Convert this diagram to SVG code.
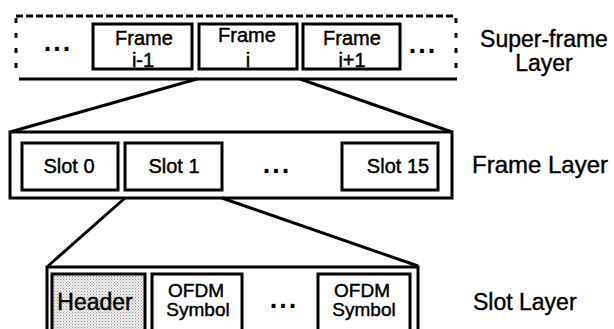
<svg xmlns="http://www.w3.org/2000/svg" width="614" height="329" viewBox="0 0 614 329">
  <defs>
    <pattern id="stipple" width="3" height="3" patternUnits="userSpaceOnUse">
      <rect width="3" height="3" fill="#ececec"/>
      <rect x="0" y="0" width="1" height="1" fill="#9a9a9a"/>
      <rect x="1.5" y="1.5" width="1" height="1" fill="#b5b5b5"/>
    </pattern>
  </defs>
  <style>
    .box { fill: #ffffff; stroke: #000; stroke-width: 3; }
    .edge { stroke: #000; stroke-width: 3; fill: none; }
    .lbl { font-family: "Liberation Sans", Arial, sans-serif; fill: #000; stroke: #000; stroke-width: 0.45px; text-anchor: middle; }
    .dots { font-family: "Liberation Sans", Arial, sans-serif; font-weight: bold; font-size: 27px; letter-spacing: 2px; fill: #000; text-anchor: middle; }
    .layer { font-family: "Liberation Sans", Arial, sans-serif; font-size: 23px; fill: #000; stroke: #000; stroke-width: 0.4px; }
  </style>

  <!-- super-frame container -->
  <g id="superframe">
    <line x1="16" y1="16" x2="456" y2="16" class="edge" stroke-dasharray="7 3"/>
    <line x1="16" y1="18" x2="16" y2="77" class="edge" stroke-dasharray="5 10"/>
    <line x1="456" y1="18" x2="456" y2="77" class="edge" stroke-dasharray="5 10"/>
    <line x1="19" y1="79" x2="457" y2="79" class="edge"/>
    <text x="58" y="51" class="dots">...</text>
    <text x="423" y="53" class="dots">...</text>
  </g>
  <g id="frame-im1">
    <rect x="93" y="24" width="99" height="45" class="box"/>
    <text x="144" y="45" class="lbl" font-size="20">Frame</text>
    <text x="143" y="67" class="lbl" font-size="20">i-1</text>
  </g>
  <g id="frame-i">
    <rect x="199" y="24" width="98" height="45" class="box"/>
    <text x="247" y="42" class="lbl" font-size="20">Frame</text>
    <text x="248" y="67" class="lbl" font-size="20">i</text>
  </g>
  <g id="frame-ip1">
    <rect x="303" y="24" width="97" height="45" class="box"/>
    <text x="352" y="45" class="lbl" font-size="20">Frame</text>
    <text x="352" y="67" class="lbl" font-size="20">i+1</text>
  </g>
  <g id="label-superframe">
    <text x="544" y="47" class="layer" text-anchor="middle">Super-frame</text>
    <text x="544" y="71" class="layer" text-anchor="middle">Layer</text>
  </g>

  <!-- frame layer -->
  <g id="frame">
    <rect x="10" y="132" width="442" height="66" class="box"/>
    <text x="277" y="173" class="dots">...</text>
  </g>
  <g id="slot-0">
    <rect x="22" y="143" width="96" height="47" class="box"/>
    <text x="69" y="173" class="lbl" font-size="20">Slot 0</text>
  </g>
  <g id="slot-1">
    <rect x="125" y="143" width="97" height="47" class="box"/>
    <text x="174" y="173" class="lbl" font-size="20">Slot 1</text>
  </g>
  <g id="slot-15">
    <rect x="342" y="143" width="96" height="47" class="box"/>
    <text x="398" y="173" class="lbl" font-size="20">Slot 15</text>
  </g>
  <g id="label-frame">
    <text x="472" y="173" class="layer" style="font-size:24px">Frame Layer</text>
  </g>

  <!-- slot layer -->
  <g id="slot">
    <rect x="47" y="267" width="371" height="80" class="box"/>
    <text x="284" y="308" class="dots">...</text>
  </g>
  <g id="header">
    <rect x="52" y="274" width="93" height="70" class="box" style="fill:url(#stipple)"/>
    <text x="95" y="310" class="lbl" font-size="23">Header</text>
  </g>
  <g id="ofdm-first">
    <rect x="152" y="274" width="90" height="70" class="box"/>
    <text x="196" y="297" class="lbl" font-size="19">OFDM</text>
    <text x="198" y="316" class="lbl" font-size="19">Symbol</text>
  </g>
  <g id="ofdm-last">
    <rect x="318" y="274" width="92" height="70" class="box"/>
    <text x="362" y="297" class="lbl" font-size="19">OFDM</text>
    <text x="364" y="316" class="lbl" font-size="19">Symbol</text>
  </g>
  <g id="label-slot">
    <text x="473" y="310" class="layer">Slot Layer</text>
  </g>

  <!-- zoom-out connectors between layers -->
  <g id="connectors">
    <line x1="197" y1="79" x2="10" y2="132" class="edge"/>
    <line x1="300" y1="79" x2="452" y2="132" class="edge"/>
    <line x1="125" y1="198" x2="48" y2="266" class="edge"/>
    <line x1="222" y1="198" x2="418" y2="266" class="edge"/>
  </g>
</svg>
